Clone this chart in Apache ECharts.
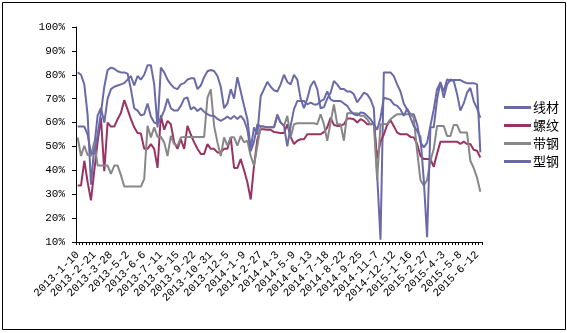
<!DOCTYPE html>
<html>
<head>
<meta charset="utf-8">
<script src="https://cdn.jsdelivr.net/npm/echarts@6/dist/echarts.min.js"></script>
<style>
  html, body { margin: 0; padding: 0; background: #fff; }
  #chart { width: 567px; height: 333px; }
</style>
</head>
<body>
<div id="chart"></div>
<script>
// Weekly dates (category axis)
const dates = [
  '2013-1-10','2013-1-17','2013-1-24','2013-1-31','2013-2-7','2013-2-21','2013-2-28','2013-3-7','2013-3-14','2013-3-21',
  '2013-3-28','2013-4-3','2013-4-11','2013-4-18','2013-4-25','2013-5-2','2013-5-9','2013-5-16','2013-5-23','2013-5-30',
  '2013-6-6','2013-6-14','2013-6-20','2013-6-27','2013-7-4','2013-7-11','2013-7-18','2013-7-25','2013-8-1','2013-8-8',
  '2013-8-15','2013-8-22','2013-8-29','2013-9-5','2013-9-12','2013-9-22','2013-9-26','2013-10-10','2013-10-17','2013-10-24',
  '2013-10-31','2013-11-7','2013-11-14','2013-11-21','2013-11-28','2013-12-5','2013-12-12','2013-12-19','2013-12-26','2014-1-2',
  '2014-1-9','2014-1-16','2014-1-23','2014-2-13','2014-2-20','2014-2-27','2014-3-6','2014-3-13','2014-3-20','2014-3-27',
  '2014-4-3','2014-4-10','2014-4-17','2014-4-24','2014-4-30','2014-5-9','2014-5-16','2014-5-23','2014-5-30','2014-6-6',
  '2014-6-13','2014-6-20','2014-6-27','2014-7-4','2014-7-11','2014-7-18','2014-7-25','2014-8-1','2014-8-8','2014-8-15',
  '2014-8-22','2014-8-29','2014-9-5','2014-9-12','2014-9-19','2014-9-25','2014-10-10','2014-10-17','2014-10-24','2014-10-31',
  '2014-11-7','2014-11-14','2014-11-21','2014-11-28','2014-12-5','2014-12-12','2014-12-19','2014-12-26','2015-1-2','2015-1-9',
  '2015-1-16','2015-1-23','2015-1-30','2015-2-6','2015-2-13','2015-2-27','2015-3-6','2015-3-13','2015-3-20','2015-3-27',
  '2015-4-3','2015-4-10','2015-4-17','2015-4-24','2015-4-30','2015-5-8','2015-5-15','2015-5-22','2015-5-29','2015-6-5',
  '2015-6-12','2015-6-19'
];

// Operating rates, %
const wireRod = [
  81,80,76,63,34,50,63,66,60,70,
  74,75,75.5,76,76.5,78,79.5,75.5,79.5,78,
  80,84,84,76,58,83,81,78,76,74.5,
  74,76,76.5,78,78.5,78.5,74,75.5,79,81.5,
  82,81.6,79.5,75,66,68,74,70,79,73,
  67,61.4,49,58,55,71,74,77,75,73.5,
  73,76,80,77,76,80,78,70,66,70,
  75.3,77.4,74,66,66.5,70,72.5,77.4,76,74,
  74,73,73,71.8,68.5,70.4,72.5,71.8,69.7,66,
  38,11,81,81,81,79.4,76,73,68,65.5,
  63.5,63.5,59.3,51.7,49.6,51.5,58.6,65.5,74,76.7,
  73,78,77.5,77.8,77.8,77.8,77,76.5,76.5,76.5,
  76,47.5
];
const rebar = [
  33.6,33.6,44,35,27.4,40,52,62,39.6,60,
  58.3,58.3,61.4,64,69.4,65.5,61.4,58,55.6,55.4,
  49,49,51,49,41,63,57,60.7,59.3,51.7,
  49,53,49,58.6,55,51.7,49,46.8,46.8,51,
  49,49,47.5,47.5,49,49,53.8,41,41,44.7,
  40,35,27.8,42,53,57.2,57.2,57,57,56,
  55.8,55.6,55.6,59.3,54,51,52.4,53,53,55.1,
  55.1,55.1,55.1,55.1,56,58,62,59,58.6,58.6,
  59.3,61.7,61.7,61.4,60,61.4,60.7,59.3,59.3,59.5,
  45,52,55,59,61,58.5,55.8,55.1,55.1,55.1,
  54,53.8,51,46,44.7,44.7,44.7,41.5,47,52,
  52,52,52,52,52,51,52,51,51,48.6,
  48.2,45.4
];
const stripSteel = [
  53.8,46,50.3,46.4,46,52,42,42,42,42,
  38.5,42,42,38,33.2,33.2,33.2,33.2,33.2,33.2,
  36.4,58.6,53.8,58,54,54,51.7,46,54.4,51,
  50.3,53.8,54,54,54,54,54,54,54,70.4,
  73.9,58.6,51.7,46,53.8,50.3,53.8,53.8,50.3,54.4,
  51.7,52.4,46,42,50.3,58.6,58.3,58,58,58,
  63.5,60,58.6,62.8,53.8,59.3,59.7,59.7,59.7,59.7,
  59.7,59.7,59.3,63.5,59.3,52.4,60,67.6,59.3,59.3,
  52.4,63.9,63.9,63.9,63.9,62.8,62.8,61.4,59.3,59.3,
  36,59.3,59.3,59.5,61.4,62.5,63.5,63.5,63.5,63.5,
  63.5,62,48,36,33.6,36,44,48.9,58.6,58.6,
  58.6,54.4,54.4,59,59,55.8,55.8,55.8,44,41,
  37,31
];
const sectionSteel = [
  58.3,58.3,58.3,55,47,47,55,64,75,82,
  83,82.5,81.5,81,81,80.5,74,66,65,63,
  63.5,68,62.5,60,59.5,62,65,70,66,65,
  65,67,70,70.5,65.5,66.5,64.8,66,64.5,63.5,
  62.8,62.8,61.5,60.7,61.5,62.5,61.5,62.8,61.5,62.8,
  61,57,48,52,59.3,58.3,58.3,58,58,58,
  62.8,60,58.6,50,58.6,65.6,69,69,69,67.6,
  68.3,67.6,67.6,69,69.7,73,69.7,69,69,69,
  68,67,64.8,63.5,63,64.2,64,62.8,61.4,59.3,
  57,62,70.4,70,69.5,67.6,67,65.5,62.8,65.8,
  62,58.6,56.5,54,36,12,58,58,69.7,77,
  70.4,76,78,77.5,72,65,68,72.5,74.5,69,
  66,62
];

const seriesNames = ['线材', '螺纹', '带钢', '型钢'];
const seriesColors = ['#6a6aa8', '#993462', '#878787', '#6a6aa8'];
const seriesData = [wireRod, rebar, stripSteel, sectionSteel];

const axisFont = 'Liberation Mono';

const chart = echarts.init(document.getElementById('chart'), null, { renderer: 'canvas' });
chart.setOption({
  animation: false,
  backgroundColor: '#fff',
  graphic: [{
    type: 'rect',
    shape: { x: 2.5, y: 2.5, width: 563, height: 327 },
    style: { fill: 'none', stroke: '#000', lineWidth: 1 },
    silent: true
  }],
  grid: { left: 76, right: 85, top: 27, bottom: 91 },
  legend: {
    orient: 'vertical',
    left: 499,
    top: 96,
    itemWidth: 27,
    itemHeight: 3,
    itemGap: 5,
    icon: 'rect',
    textStyle: { fontFamily: 'Noto Sans CJK SC', fontSize: 13, color: '#000', padding: [0, 0, 0, -3] },
    data: seriesNames
  },
  xAxis: {
    type: 'category',
    data: dates,
    boundaryGap: true,
    axisLine: { lineStyle: { color: '#000', width: 1 } },
    axisTick: { show: true, interval: 0, length: 3, lineStyle: { color: '#000' } },
    axisLabel: {
      interval: 4,
      rotate: 45,
      margin: 11,
      fontFamily: axisFont,
      fontSize: 11,
      color: '#000'
    },
    splitLine: { show: false }
  },
  yAxis: {
    type: 'value',
    min: 10,
    max: 100,
    interval: 10,
    axisLine: { show: true, lineStyle: { color: '#000', width: 1 } },
    axisTick: { show: true, length: 4, lineStyle: { color: '#000' } },
    axisLabel: {
      formatter: '{value}%',
      margin: 11,
      fontFamily: axisFont,
      fontSize: 11,
      color: '#000'
    },
    splitLine: { show: false }
  },
  series: seriesNames.map((name, k) => ({
    name: name,
    type: 'line',
    data: seriesData[k],
    symbol: 'none',
    color: seriesColors[k],
    lineStyle: { width: 2, color: seriesColors[k] },
    emphasis: { disabled: true }
  }))
});
</script>
</body>
</html>
